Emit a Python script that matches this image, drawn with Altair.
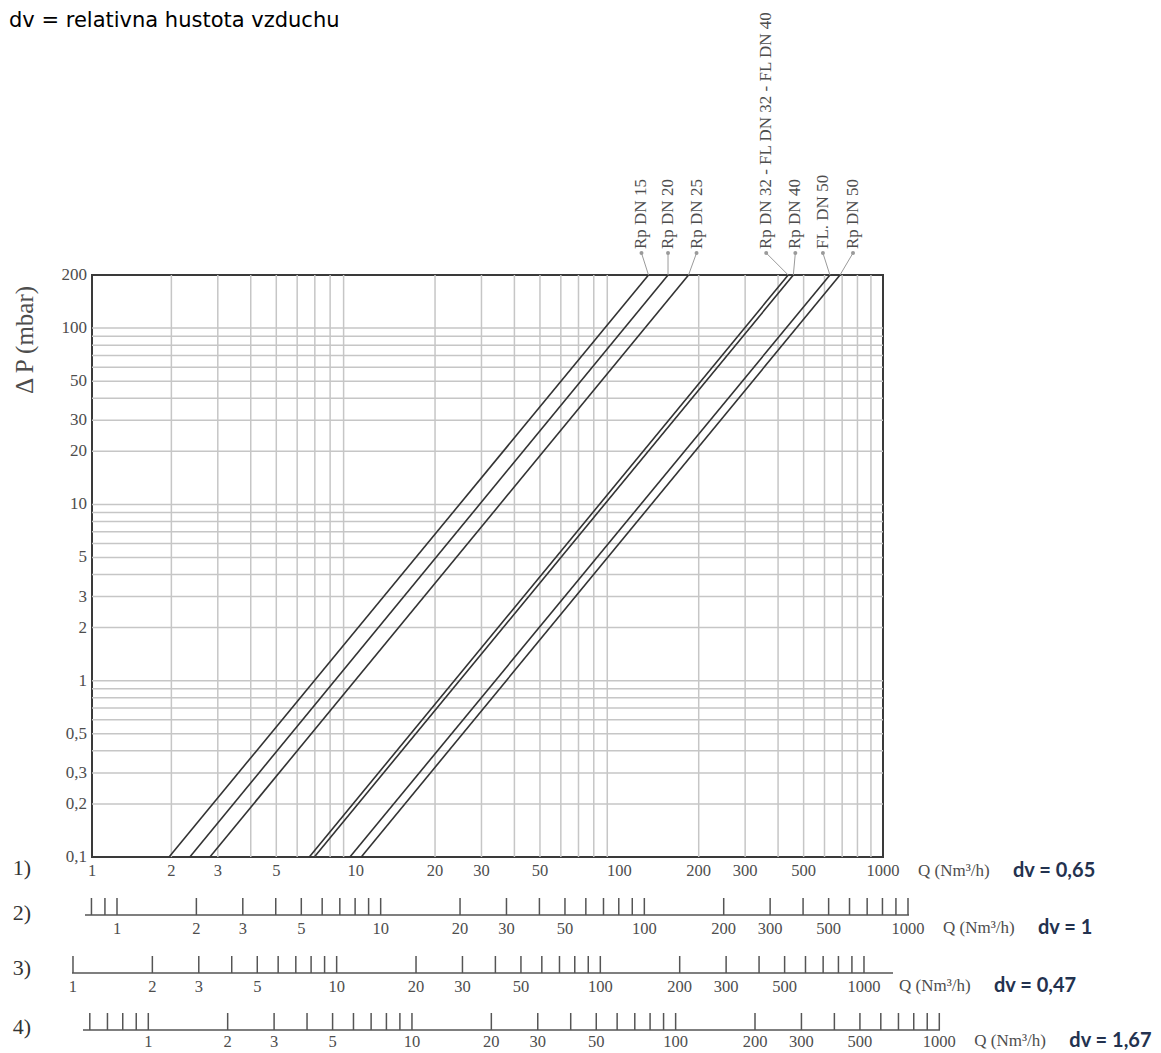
import altair as alt
import pandas as pd

# ---------------- data ----------------
series_names = ["Rp DN 15", "Rp DN 20", "Rp DN 25",
                "Rp DN 32 - FL DN 32 - FL DN 40", "Rp DN 40", "FL. DN 50", "Rp DN 50"]
# flow Q (Nm³/h, dv = 0,65) where each line meets ΔP = 0,1 mbar and ΔP = 200 mbar
q_at_low = [1.96, 2.35, 2.80, 6.67, 6.97, 9.51, 10.5]
q_at_high = [129, 153, 183, 437, 457, 629, 687]
dp_low = 0.1
dp_high = 200

x_grid = [2, 3, 4, 5, 6, 7, 8, 9, 20, 30, 40, 50, 60, 70, 80, 90,
          200, 300, 400, 500, 600, 700, 800, 900]
y_grid = [0.2, 0.3, 0.4, 0.5, 0.6, 0.7, 0.8, 0.9, 1, 2, 3, 4, 5, 6, 7, 8, 9,
          10, 20, 30, 40, 50, 60, 70, 80, 90, 100]
x_tick_values = [1, 2, 3, 5, 10, 20, 30, 50, 100, 200, 300, 500, 1000]
x_tick_labels = ["1", "2", "3", "5", "10", "20", "30", "50", "100", "200", "300", "500", "1000"]
y_tick_values = [0.1, 0.2, 0.3, 0.5, 1, 2, 3, 5, 10, 20, 30, 50, 100, 200]
y_tick_labels = ["0,1", "0,2", "0,3", "0,5", "1", "2", "3", "5", "10", "20", "30", "50", "100", "200"]

row2_ticks = [0.8, 0.9, 1, 2, 3, 4, 5, 6, 7, 8, 9, 10, 20, 30, 40, 50, 60, 70, 80, 90,
              100, 200, 300, 400, 500, 600, 700, 800, 900, 1000]
row3_ticks = [1, 2, 3, 4, 5, 6, 7, 8, 9, 10, 20, 30, 40, 50, 60, 70, 80, 90,
              100, 200, 300, 400, 500, 600, 700, 800, 900, 1000]
row4_ticks = [0.6, 0.7, 0.8, 0.9, 1, 2, 3, 4, 5, 6, 7, 8, 9, 10, 20, 30, 40, 50, 60, 70, 80, 90,
              100, 200, 300, 400, 500, 600, 700, 800, 900, 1000]
row_numbers = ["1)", "2)", "3)", "4)"]
row_dv_text = ["dv = 0,65", "dv = 1", "dv = 0,47", "dv = 1,67"]
unit_text = "Q (Nm³/h)"
y_title = "Δ P (mbar)"
top_note = "dv = relativna hustota vzduchu"
# factor by which each extra Q scale is shifted against scale 1)
row_shift = [1.0, 1.244, 0.847, 1.635]

# ---------------- layout / style ----------------
W, H = 791, 582
SERIF = "Liberation Serif"
TXT = "#4d4d4d"
GRID = "#c6c6c6"
AX = "#555555"
NAVY = "#23324f"
label_dx = [-7, 0, 8, -22, 2, -7, 13]   # leader-dot offsets of the series labels (px)

one = pd.DataFrame({"k": [0]})


def xscale(f=1.0):
    return alt.Scale(type="log", domain=[1 / f, 1000 / f], nice=False)


ys = alt.Scale(type="log", domain=[0.1, 200], nice=False)


def X(field, f=1.0):
    return alt.X(field, type="quantitative", scale=xscale(f), axis=None)


def Y(field):
    return alt.Y(field, type="quantitative", scale=ys, axis=None)


# ---------------- main diagram ----------------
grid_x = alt.Chart(pd.DataFrame({"q": x_grid})).mark_rule(color=GRID, strokeWidth=1.5).encode(x=X("q"))
grid_y = alt.Chart(pd.DataFrame({"p": y_grid})).mark_rule(color=GRID, strokeWidth=1.5).encode(y=Y("p"))

line_rows = []
for n, lo, hi in zip(series_names, q_at_low, q_at_high):
    line_rows.append({"name": n, "q": lo, "p": dp_low})
    line_rows.append({"name": n, "q": hi, "p": dp_high})
lines = alt.Chart(pd.DataFrame(line_rows)).mark_line(color="#333333", strokeWidth=1.6).encode(
    x=X("q"), y=Y("p"), detail="name:N")

label_layers = []
for n, hi, dx in zip(series_names, q_at_high, label_dx):
    base = alt.Chart(pd.DataFrame({"name": [n], "q": [hi], "p": [dp_high]}))
    label_layers.append(base.mark_rule(color="#9a9a9a", strokeWidth=1, x2Offset=dx, y2Offset=-22)
                        .encode(x=X("q"), y=Y("p"), x2="q", y2="p"))
    label_layers.append(base.mark_circle(size=16, color="#9a9a9a", opacity=1, xOffset=dx, yOffset=-22)
                        .encode(x=X("q"), y=Y("p")))
    label_layers.append(base.mark_text(angle=270, align="left", baseline="middle", xOffset=dx, yOffset=-26,
                                       font=SERIF, fontSize=17, color=TXT)
                        .encode(x=X("q"), y=Y("p"), text="name:N"))

y_labels = alt.Chart(pd.DataFrame({"p": y_tick_values, "t": y_tick_labels})).mark_text(
    align="right", baseline="middle", font=SERIF, fontSize=17, color=TXT).encode(
    x=alt.value(-5), y=Y("p"), text="t:N")

x_labels = alt.Chart(pd.DataFrame({"q": x_tick_values, "t": x_tick_labels})).mark_text(
    align="center", baseline="middle", font=SERIF, fontSize=16.5, color=TXT).encode(
    x=X("q"), y=alt.value(596), text="t:N")

unit1 = alt.Chart(pd.DataFrame({"q": [1000], "t": [unit_text]})).mark_text(
    align="left", baseline="middle", xOffset=35, font=SERIF, fontSize=17, color=TXT).encode(
    x=X("q"), y=alt.value(596), text="t:N")
dv1 = alt.Chart(pd.DataFrame({"q": [1000], "t": [row_dv_text[0]]})).mark_text(
    align="left", baseline="middle", xOffset=130, font="Lato", fontWeight="bold", fontSize=20, color=NAVY).encode(
    x=X("q"), y=alt.value(596), text="t:N")

ytitle = alt.Chart(one).mark_text(angle=270, align="center", baseline="middle",
                                  font=SERIF, fontSize=25, color=TXT).encode(
    x=alt.value(-67), y=alt.value(65), text=alt.value(y_title))

note = alt.Chart(one).mark_text(align="left", baseline="top", font="DejaVu Sans",
                                fontSize=21, color="#000000").encode(
    x=alt.value(-83), y=alt.value(-265), text=alt.value(top_note))

row_num_y = [593, 638, 693, 752]
row_num_layers = [
    alt.Chart(one).mark_text(align="center", baseline="middle", font=SERIF, fontSize=22, color="#333333")
    .encode(x=alt.value(-70), y=alt.value(yy), text=alt.value(t))
    for t, yy in zip(row_numbers, row_num_y)
]

main = alt.layer(grid_x, grid_y, lines, *label_layers, y_labels, x_labels, unit1, dv1,
                 ytitle, note, *row_num_layers)


# ---------------- extra Q scales ----------------
def q_scale_row(ticks, f, line_y, x0, x1, dv_text, lab_gap=14):
    axis_line = alt.Chart(one).mark_rule(color=AX, strokeWidth=1.5).encode(
        x=alt.value(x0), x2=alt.value(x1), y=alt.value(line_y))
    tk = alt.Chart(pd.DataFrame({"q": ticks})).mark_rule(color=AX, strokeWidth=1.5).encode(
        x=X("q", f), y=alt.value(line_y - 17), y2=alt.value(line_y))
    lab = alt.Chart(pd.DataFrame({"q": x_tick_values, "t": x_tick_labels})).mark_text(
        align="center", baseline="middle", font=SERIF, fontSize=16.5, color=TXT).encode(
        x=X("q", f), y=alt.value(line_y + lab_gap), text="t:N")
    unit = alt.Chart(pd.DataFrame({"q": [1000], "t": [unit_text]})).mark_text(
        align="left", baseline="middle", xOffset=35, font=SERIF, fontSize=17, color=TXT).encode(
        x=X("q", f), y=alt.value(line_y + lab_gap - 1), text="t:N")
    dvt = alt.Chart(pd.DataFrame({"q": [1000], "t": [dv_text]})).mark_text(
        align="left", baseline="middle", xOffset=130, font="Lato", fontWeight="bold", fontSize=20,
        color=NAVY).encode(x=X("q", f), y=alt.value(line_y + lab_gap - 1), text="t:N")
    return alt.layer(axis_line, tk, lab, unit, dvt)


row2 = q_scale_row(row2_ticks, row_shift[1], 640, -7, 817, row_dv_text[1])
row3 = q_scale_row(row3_ticks, row_shift[2], 698, -20, 801, row_dv_text[2])
row4 = q_scale_row(row4_ticks, row_shift[3], 755, -9, 848, row_dv_text[3], lab_gap=12)

chart = alt.layer(main, row2, row3, row4).resolve_scale(x="independent").properties(
    width=W, height=H,
    padding={"left": 84, "top": 267, "right": 270, "bottom": 197},
    autosize=alt.AutoSizeParams(type="none"),
).configure_view(stroke="#3a3a3a", strokeWidth=2)

chart.save("out.html", embed_options={"renderer": "svg", "actions": False})
